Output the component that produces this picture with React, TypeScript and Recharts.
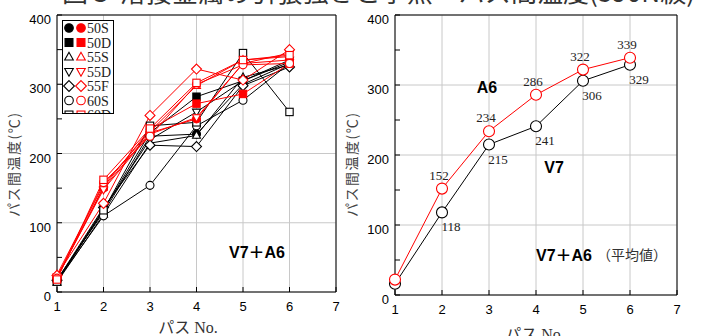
import React from "react";
import { LineChart, Line, XAxis, YAxis, CartesianGrid, ReferenceLine, LabelList } from "recharts";

// パス番号
const passes = [1, 2, 3, 4, 5, 6];
const xTicks = [1, 2, 3, 4, 5, 6, 7];
const yTicks = [0, 50, 100, 150, 200, 250, 300, 350, 400];
const yGrid = [0, 100, 200, 300, 400];

// 左図: 各条件のパス間温度 (黒 = V7, 赤 = A6)
const legendNames = ["50S", "50D", "55S", "55D", "55F", "60S", "60D"];
const markerShapes = ["circleFill", "squareFill", "triUp", "triDown", "diamond", "circle", "square"];

const v7Runs = [
  [18, 115, 225, 228, 300, 330],
  [15, 118, 230, 282, 305, 332],
  [14, 112, 215, 226, 310, 328],
  [16, 120, 220, 260, 305, 335],
  [17, 122, 212, 210, 298, 325],
  [16, 110, 154, 240, 277, 330],
  [15, 118, 240, 245, 345, 260],
];

const a6Runs = [
  [22, 150, 230, 250, 330, 335],
  [20, 152, 235, 272, 286, 330],
  [25, 155, 232, 298, 335, 340],
  [22, 148, 228, 252, 330, 345],
  [24, 128, 255, 322, 306, 350],
  [20, 158, 225, 300, 328, 330],
  [18, 162, 236, 302, 335, 342],
];

// 右図: 平均値
const v7Average = [16, 118, 215, 241, 306, 329];
const a6Average = [22, 152, 234, 286, 322, 339];

const RED = "#ff0000";
const BLACK = "#000000";

const leftData = passes.map((p, i) => {
  const row: Record<string, number> = { pass: p };
  v7Runs.forEach((run, k) => (row[`v7_${k}`] = run[i]));
  a6Runs.forEach((run, k) => (row[`a6_${k}`] = run[i]));
  return row;
});

const rightData = passes.map((p, i) => ({ pass: p, v7: v7Average[i], a6: a6Average[i] }));

function Marker({ cx, cy, shape, color, r }: { cx: number; cy: number; shape: string; color: string; r: number }) {
  const filled = shape.endsWith("Fill");
  const fill = filled ? color : "#ffffff";
  const sw = 1.1;
  if (shape.startsWith("circle")) {
    return <circle cx={cx} cy={cy} r={r} fill={fill} stroke={color} strokeWidth={sw} />;
  }
  if (shape.startsWith("square")) {
    const h = r * 0.92;
    return <rect x={cx - h} y={cy - h} width={h * 2} height={h * 2} fill={fill} stroke={color} strokeWidth={sw} />;
  }
  if (shape === "triUp") {
    const pts = `${cx},${cy - r * 1.1} ${cx - r},${cy + r * 0.7} ${cx + r},${cy + r * 0.7}`;
    return <polygon points={pts} fill={fill} stroke={color} strokeWidth={sw} />;
  }
  if (shape === "triDown") {
    const pts = `${cx},${cy + r * 1.1} ${cx - r},${cy - r * 0.7} ${cx + r},${cy - r * 0.7}`;
    return <polygon points={pts} fill={fill} stroke={color} strokeWidth={sw} />;
  }
  const d = r * 1.25;
  const pts = `${cx},${cy - d} ${cx + d},${cy} ${cx},${cy + d} ${cx - d},${cy}`;
  return <polygon points={pts} fill={fill} stroke={color} strokeWidth={sw} />;
}

const tickFont = { fontFamily: "'Liberation Sans', Arial, sans-serif", fontSize: 13, fill: "#000" };

function YTick(props: any) {
  const { x, y, payload } = props;
  if (payload.value % 100 !== 0) return <g />;
  return (
    <text x={x} y={y} dy={9} textAnchor="end" {...tickFont}>
      {payload.value}
    </text>
  );
}

// 1パス目には数値ラベルなし
function V7Label(props: any) {
  const { x, y, value, index } = props;
  if (index === 0) return null;
  return (
    <text x={x + 9} y={y + 19} textAnchor="middle" fontFamily="'Liberation Serif', serif" fontSize={13} fill="#222">
      {value}
    </text>
  );
}

function A6Label(props: any) {
  const { x, y, value, index } = props;
  if (index === 0) return null;
  return (
    <text x={x - 3} y={y - 9} textAnchor="middle" fontFamily="'Liberation Serif', serif" fontSize={13} fill="#222">
      {value}
    </text>
  );
}

export default function App() {
  const boldSans = { fontFamily: "'Liberation Sans', Arial, 'Noto Sans CJK JP', sans-serif", fontWeight: 700, fontSize: 16, fill: "#000" };
  const cjk = "'Noto Sans CJK JP', sans-serif";
  return (
    <div style={{ position: "absolute", left: 0, top: 0, width: 704, height: 336, background: "#fff", overflow: "hidden" }}>
      {/* 左図 */}
      <div style={{ position: "absolute", left: 0, top: 0 }}>
        <LineChart width={352} height={336} data={leftData} margin={{ top: 15, right: 16, left: 0, bottom: 14 }}>
          <CartesianGrid stroke="#c8c8c8" horizontalValues={yGrid} verticalValues={xTicks} />
          <XAxis
            dataKey="pass"
            type="number"
            domain={[1, 7]}
            ticks={xTicks}
            height={30}
            stroke={BLACK}
            tickSize={-5}
            tickMargin={15}
            tick={tickFont}
          />
          <YAxis
            type="number"
            domain={[0, 400]}
            ticks={yTicks}
            width={57}
            stroke={BLACK}
            tickSize={-5}
            tickMargin={11}
            tick={<YTick />}
            interval={0}
          />
          <ReferenceLine y={400} stroke={BLACK} />
          <ReferenceLine x={7} stroke={BLACK} />
          {v7Runs.map((_, k) => (
            <Line
              key={`v7_${k}`}
              dataKey={`v7_${k}`}
              stroke={BLACK}
              strokeWidth={1}
              isAnimationActive={false}
              dot={(p: any) => <Marker key={`v7_${k}_${p.index}`} cx={p.cx} cy={p.cy} shape={markerShapes[k]} color={BLACK} r={4} />}
            />
          ))}
          {a6Runs.map((_, k) => (
            <Line
              key={`a6_${k}`}
              dataKey={`a6_${k}`}
              stroke={RED}
              strokeWidth={1}
              isAnimationActive={false}
              dot={(p: any) => <Marker key={`a6_${k}_${p.index}`} cx={p.cx} cy={p.cy} shape={markerShapes[k]} color={RED} r={4} />}
            />
          ))}
        </LineChart>
      </div>

      {/* 右図 */}
      <div style={{ position: "absolute", left: 352, top: 0 }}>
        <LineChart width={352} height={336} data={rightData} margin={{ top: 15, right: 27, left: 0, bottom: 11 }}>
          <CartesianGrid stroke="#c8c8c8" horizontalValues={yGrid} verticalValues={xTicks} />
          <XAxis
            dataKey="pass"
            type="number"
            domain={[1, 7]}
            ticks={xTicks}
            height={30}
            stroke={BLACK}
            tickSize={-5}
            tickMargin={15}
            tick={tickFont}
          />
          <YAxis
            type="number"
            domain={[0, 400]}
            ticks={yTicks}
            width={43}
            stroke={BLACK}
            tickSize={-5}
            tickMargin={11}
            tick={<YTick />}
            interval={0}
          />
          <ReferenceLine y={400} stroke={BLACK} />
          <ReferenceLine x={7} stroke={BLACK} />
          <Line
            dataKey="v7"
            stroke={BLACK}
            strokeWidth={1}
            isAnimationActive={false}
            dot={(p: any) => <Marker key={`v7avg_${p.index}`} cx={p.cx} cy={p.cy} shape="circle" color={BLACK} r={5.5} />}
          >
            <LabelList dataKey="v7" content={<V7Label />} />
          </Line>
          <Line
            dataKey="a6"
            stroke={RED}
            strokeWidth={1}
            isAnimationActive={false}
            dot={(p: any) => <Marker key={`a6avg_${p.index}`} cx={p.cx} cy={p.cy} shape="circle" color={RED} r={5.5} />}
          >
            <LabelList dataKey="a6" content={<A6Label />} />
          </Line>
        </LineChart>
      </div>

      {/* 文字・凡例 */}
      <svg width={704} height={336} style={{ position: "absolute", left: 0, top: 0, pointerEvents: "none" }}>
        <text x={62} y={2} fontFamily={cjk} fontSize={25} fill="#333" textLength={633} lengthAdjust="spacingAndGlyphs">
          図５ 溶接金属の引張強さと予熱・パス間温度(590N級)
        </text>

        <text transform="translate(19,165) rotate(-90)" textAnchor="middle" fontFamily={cjk} fontSize={14} fill="#444" textLength={104} lengthAdjust="spacing">
          パス間温度(℃)
        </text>
        <text transform="translate(357,165) rotate(-90)" textAnchor="middle" fontFamily={cjk} fontSize={14} fill="#444" textLength={104} lengthAdjust="spacing">
          パス間温度(℃)
        </text>
        <text x={188} y={333} textAnchor="middle" fontFamily={`'Liberation Serif', ${cjk}`} fontSize={16} fill="#333">
          パス No.
        </text>
        <text x={535} y={340} textAnchor="middle" fontFamily={`'Liberation Serif', ${cjk}`} fontSize={16} fill="#333">
          パス No.
        </text>

        <text x={257} y={258} textAnchor="middle" {...boldSans}>V7＋A6</text>
        <text x={487} y={93} textAnchor="middle" {...boldSans}>A6</text>
        <text x={554} y={173} textAnchor="middle" {...boldSans}>V7</text>
        <text x={564} y={261} textAnchor="middle" {...boldSans}>V7＋A6</text>
        <text x={597} y={260} fontFamily={cjk} fontSize={14} fill="#333">（平均値）</text>

        <defs>
          <clipPath id="legendClip">
            <rect x={62} y={20} width={52} height={93} />
          </clipPath>
        </defs>
        <rect x={62.5} y={20.5} width={51} height={93} fill="#fff" stroke="#000" strokeWidth={1} />
        <g clipPath="url(#legendClip)">
          {legendNames.map((name, k) => {
            const cy = 28 + k * 14.5;
            return (
              <g key={name}>
                <Marker cx={69} cy={cy} shape={markerShapes[k]} color={BLACK} r={4.3} />
                <Marker cx={81} cy={cy} shape={markerShapes[k]} color={RED} r={4.3} />
                <text x={87} y={cy + 5} fontFamily="'Liberation Serif', serif" fontSize={14} fill="#222">
                  {name}
                </text>
              </g>
            );
          })}
        </g>
        <line x1={62} x2={114} y1={113.5} y2={113.5} stroke="#000" />
      </svg>
    </div>
  );
}
